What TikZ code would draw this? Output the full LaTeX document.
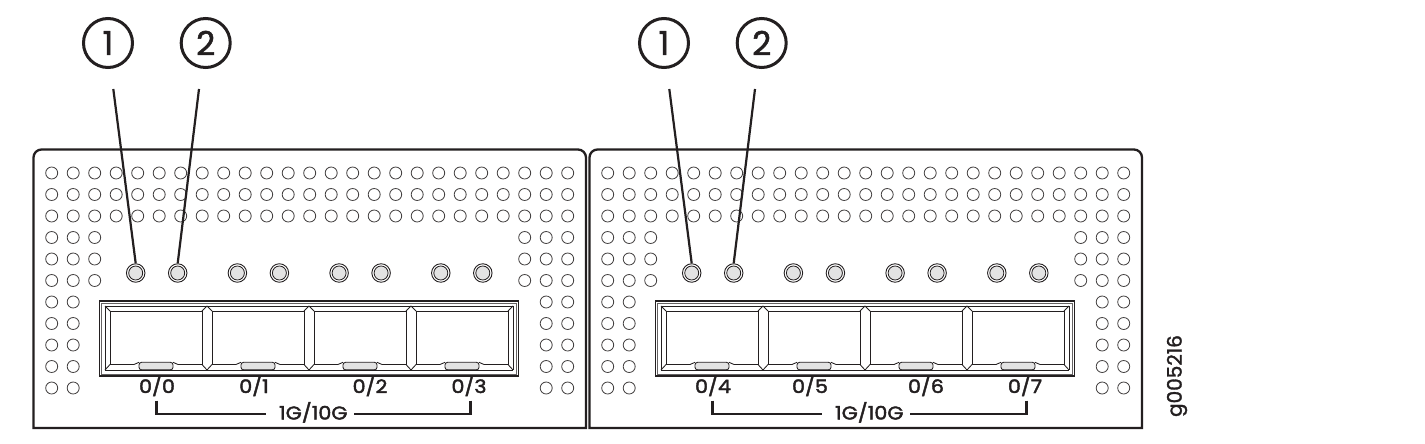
\documentclass[tikz,border=0pt]{standalone}
\usepackage{fontspec}
\setmainfont{Poppins}
\newfontfamily\lblfont[FakeStretch=1.12,FakeBold=2.2]{Poppins}
\newfontfamily\numfont[FakeBold=1.6]{Poppins}
\definecolor{ink}{HTML}{231F20}
\begin{document}
\begin{tikzpicture}[x=1pt,y=-1pt,
  panel/.style={draw=ink, line width=2.3pt},
  hole/.style={draw=ink!85, line width=0.8pt},
  ledring/.style={circle, draw=ink, line width=0.9pt, minimum size=18.5pt, inner sep=0pt, fill=white},
  ledcore/.style={draw=ink, line width=0.8pt, fill=gray!22},
  cage/.style={draw=ink, line width=1.1pt},
  cagein/.style={draw=ink!70, line width=0.7pt},
  portline/.style={draw=ink, line width=0.85pt},
  tab/.style={draw=ink, line width=0.85pt, fill=gray!22, rounded corners=2.5pt},
  lbl/.style={inner sep=0pt, anchor=base, font=\lblfont\fontsize{18.5}{18.5}\selectfont, text=ink},
  bracket/.style={draw=ink, line width=2.3pt},
  callout/.style={circle, draw=ink, line width=3pt, minimum size=49pt, inner sep=0pt, font=\numfont\fontsize{33}{33}\selectfont, text=ink},
  leader/.style={draw=ink, line width=2.2pt}
]
\useasboundingbox (0,0) rectangle (1425,444);
\fill[white] (0,0) rectangle (1425,444);

\foreach \ox/\s/\la/\lb/\lc/\ld in {0/L/0/1/2/3, 556/R/4/5/6/7} {
\begin{scope}[xshift=\ox pt]
  % panel outline
  \draw[panel] (33.5,428) -- (33.5,300) [rounded corners=8pt] -- (33.5,149.5) -- (586,149.5) -- (586,300) [sharp corners] -- (586,428) -- cycle;
  % vent holes
  \foreach \j in {0,1,2} \foreach \i in {0,...,24}
    \draw[hole] ({51.7+21.5*\i},{173+21.5*\j}) circle[radius=6pt];
  \foreach \j in {3,4,5} \foreach \i in {0,1,2,22,23,24}
    \draw[hole] ({51.7+21.5*\i},{173+21.5*\j}) circle[radius=6pt];
  \foreach \j in {6,...,10} \foreach \i in {0,1,23,24}
    \draw[hole] ({51.7+21.5*\i},{173+21.5*\j}) circle[radius=6pt];
  % LEDs
  \foreach \k in {0,...,3} {
    \node[ledring] (led\s a\k) at ({135.7+101.7*\k},273) {};
    \draw[ledcore] (led\s a\k.center) circle[radius=7pt];
    \node[ledring] (led\s b\k) at ({177.7+101.7*\k},273) {};
    \draw[ledcore] (led\s b\k.center) circle[radius=7pt];
  }
  % cage
  \draw[cage] (99.7,301) rectangle (518.3,376);
  \draw[cagein] (101.8,303) rectangle (516.2,374);
  \draw[portline] (105,306) -- (513,306);
  \draw[portline] (105,370) -- (513,370);
  \draw[portline] (105,306) -- (105,370);
  \draw[portline] (513,306) -- (513,370);
  \foreach \k in {0,...,3} {
    \pgfmathsetmacro{\xa}{105+102*\k}
    \pgfmathsetmacro{\xb}{\xa+102}
    \pgfmathsetmacro{\cx}{\xa+51}
    \draw[portline] (\cx-22,364.5) -- (\xa+5,364.5) -- (\xa+5,311) -- (\xb-5,311) -- (\xb-5,364.5) -- (\cx+22,364.5);
    \draw[portline] (\cx-22,364.5) .. controls (\cx-19.5,364.5) and (\cx-19.5,362.3) .. (\cx-17,362.3);
    \draw[portline] (\cx+22,364.5) .. controls (\cx+19.5,364.5) and (\cx+19.5,362.3) .. (\cx+17,362.3);
    \draw[portline] (\xa,306) -- (\xa+5,311);
    \draw[portline] (\xb,306) -- (\xb-5,311);
    \draw[portline] (\xa,370) -- (\xa+5,364.5);
    \draw[portline] (\xb,370) -- (\xb-5,364.5);
    \draw[tab] (\cx-17,362.3) rectangle (\cx+17,369.8);
  }
  % port labels
  \node[lbl] (pl\s0) at (157,393) {0/\la};
  \node[lbl] (pl\s1) at (254,393) {0/\lb};
  \node[lbl] (pl\s2) at (370,393) {0/\lc};
  \node[lbl] (pl\s3) at (469,393) {0/\ld};
  \node[lbl] (speed\s) at (313.3,419.5) {1G/10G};
  \coordinate (bl\s) at (156.5,400.5);
  \coordinate (br\s) at (470.5,400.5);
  \coordinate (sl\s) at (266,414);
  \coordinate (sr\s) at (354,414);
  \draw[bracket] (bl\s) |- (sl\s);
  \draw[bracket] (br\s) |- (sr\s);
  % callouts
  \node[callout] (c\s1) at (108,43) {1};
  \node[callout] (c\s2) at (205.7,43) {2};
  \coordinate (t\s1) at (113.3,89);
  \coordinate (t\s2) at (199,89);
  \draw[leader] (t\s1) -- (led\s a0.north);
  \draw[leader] (t\s2) -- (led\s b0.north);
\end{scope}
}
\node[rotate=90, inner sep=0pt, font=\numfont\fontsize{20}{20}\selectfont, text=ink] (gid) at (1177,376) {g005216};
\end{tikzpicture}
\end{document}
